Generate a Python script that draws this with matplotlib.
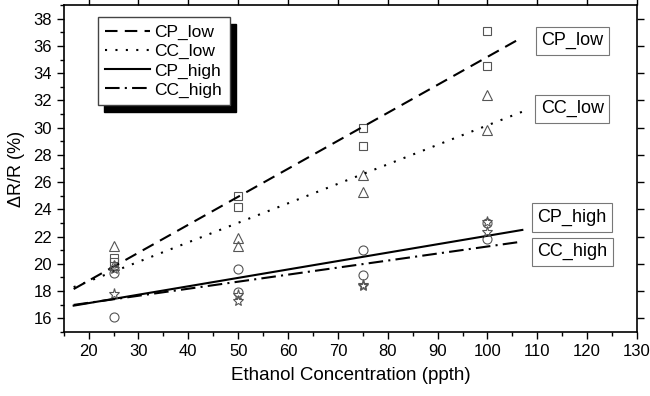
import numpy as np
import matplotlib
matplotlib.use("Agg")
import matplotlib.pyplot as plt
from matplotlib.ticker import MultipleLocator

plt.rcParams['font.family'] = ['Liberation Sans', 'DejaVu Sans']

# concentrations (ppth), two samples per concentration
conc = [25, 25, 50, 50, 75, 75, 100, 100]
cp_low = [20.4, 20.1, 25.0, 24.2, 30.0, 28.65, 37.1, 34.5]
cc_low = [21.3, 19.9, 21.9, 21.3, 26.5, 25.3, 32.4, 29.8]
cp_high = [19.3, 16.1, 19.6, 17.9, 21.0, 19.2, 23.0, 21.8]
cc_high = [19.6, 17.8, 17.7, 17.3, 18.45, 18.4, 23.1, 22.3]
labels = ["CP_low", "CC_low", "CP_high", "CC_high"]

fig = plt.figure(figsize=(6.5, 3.96), dpi=100)
ax = fig.add_axes([0.098, 0.162, 0.882, 0.825])

series = [cp_low, cc_low, cp_high, cc_high]
markers = ["s", "^", "o", "*"]
msizes = [6, 7, 6.5, 8]
styles = [(0, (6, 3.5)), (0, (1, 4)), "-", (0, (7, 2.5, 1, 2.5))]

xfit = np.linspace(17, 107, 50)
handles = []
for ys, mk, ms, ls, lab in zip(series, markers, msizes, styles, labels):
    ax.plot(conc, ys, linestyle="none", marker=mk, ms=ms, mfc="none",
            mec="#555555", mew=0.8)
    k, b = np.polyfit(conc, ys, 1)
    h, = ax.plot(xfit, k * xfit + b, color="black", lw=1.5, ls=ls, label=lab)
    handles.append(h)

# right-hand labels next to the fit lines
label_y = [36.4, 31.4, 23.4, 20.9]
for lab, yy in zip(labels, label_y):
    ax.text(117, yy, lab, fontsize=13, ha="center", va="center",
            bbox=dict(boxstyle="square,pad=0.3", fc="white", ec="#777777", lw=0.8))

ax.set_xlim(15, 130)
ax.set_ylim(15, 39)
ax.xaxis.set_major_locator(MultipleLocator(10))
ax.xaxis.set_minor_locator(MultipleLocator(5))
ax.yaxis.set_major_locator(MultipleLocator(2))
ax.yaxis.set_minor_locator(MultipleLocator(1))
ax.tick_params(which="both", direction="out", labelsize=12, width=1)
ax.tick_params(which="major", length=5)
ax.tick_params(which="minor", length=3)
ax.tick_params(top=True, right=True, which="major")
for sp in ax.spines.values():
    sp.set_linewidth(1.2)

ax.set_xlabel("Ethanol Concentration (ppth)", fontsize=13.5, labelpad=6)
ax.set_ylabel("ΔR/R (%)", fontsize=13, labelpad=6)

leg = ax.legend(handles=handles, loc="upper left", bbox_to_anchor=(0.059, 0.963),
                borderaxespad=0, fontsize=12.5, fancybox=False, framealpha=1,
                edgecolor="#444444",
                shadow={"color": "black", "alpha": 1, "ox": 5, "oy": -5},
                handlelength=2.6, handletextpad=0.2, borderpad=0.45, labelspacing=0.22)

fig.savefig("out.png", dpi=100)
